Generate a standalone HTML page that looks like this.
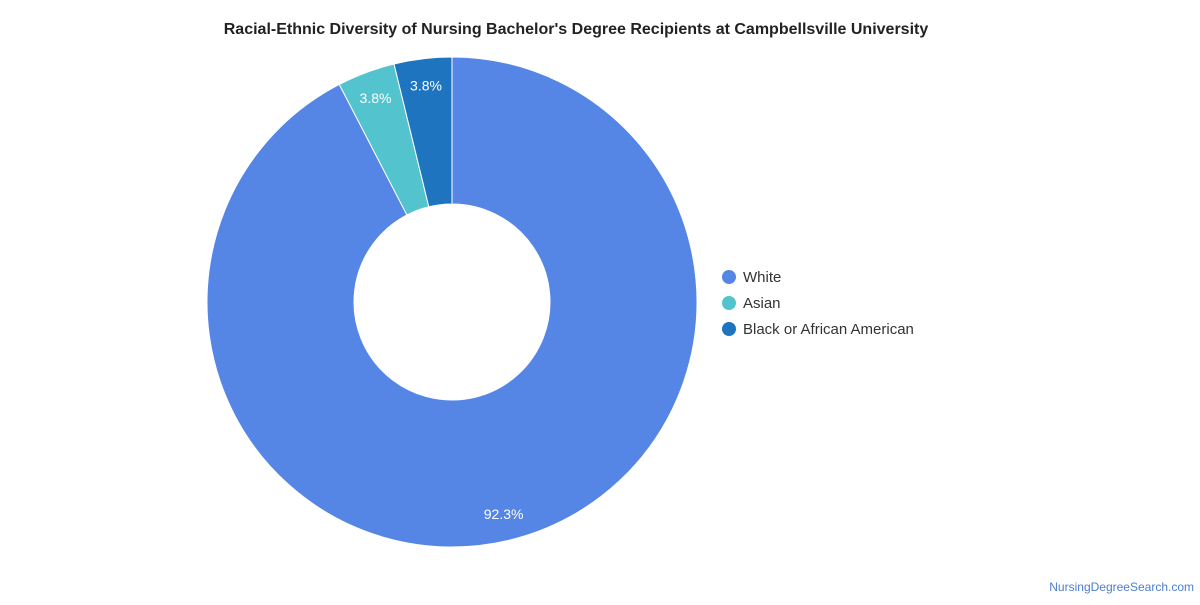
<!DOCTYPE html>
<html><head><meta charset="utf-8"><style>
body{margin:0;background:#fff;font-family:"Liberation Sans",sans-serif;}
</style></head><body>
<svg width="1200" height="600" xmlns="http://www.w3.org/2000/svg">
<text x="576" y="34" text-anchor="middle" font-size="16" font-weight="bold" fill="#222">Racial-Ethnic Diversity of Nursing Bachelor's Degree Recipients at Campbellsville University</text>
<g id="slices"></g>
<g id="legend"></g>
<text x="1194" y="591" text-anchor="end" font-size="12" fill="#4a7fd0">NursingDegreeSearch.com</text>
</svg>
<script>
const categories=["White","Asian","Black or African American"];
const values=[92.3,3.8,3.8];
const labels=["92.3%","3.8%","3.8%"];
const colors=["#5585e5","#53c3cd","#1f74c0"];
const cx=452,cy=302,R=245,r=98,LR=218;
const NS="http://www.w3.org/2000/svg";
const g=document.getElementById('slices');
const total=values.reduce((a,b)=>a+b,0);
let a0=0;
function pt(rad,ang){return [cx+rad*Math.sin(ang),cy-rad*Math.cos(ang)];}
values.forEach((v,i)=>{
  const a1=a0+v/total*2*Math.PI;
  const large=(a1-a0)>Math.PI?1:0;
  const [x1,y1]=pt(R,a0),[x2,y2]=pt(R,a1),[x3,y3]=pt(r,a1),[x4,y4]=pt(r,a0);
  const p=document.createElementNS(NS,'path');
  p.setAttribute('d',`M${x1},${y1}A${R},${R} 0 ${large} 1 ${x2},${y2}L${x3},${y3}A${r},${r} 0 ${large} 0 ${x4},${y4}Z`);
  p.setAttribute('fill',colors[i]);p.setAttribute('stroke','#fff');p.setAttribute('stroke-width','1');
  
  
  g.appendChild(p);
  const am=(a0+a1)/2;const [lx,ly]=pt(LR,am);
  const t=document.createElementNS(NS,'text');
  t.setAttribute('x',lx);t.setAttribute('y',ly+5);t.setAttribute('text-anchor','middle');
  t.setAttribute('font-size','14');t.setAttribute('fill','#fff');t.textContent=labels[i];
  
  
  g.appendChild(t);
  a0=a1;
});
const lg=document.getElementById('legend');
categories.forEach((c,i)=>{
  const gg=document.createElementNS(NS,'g');
  
  
  const ci=document.createElementNS(NS,'circle');
  ci.setAttribute('cx',729);ci.setAttribute('cy',277+i*26);ci.setAttribute('r',7);ci.setAttribute('fill',colors[i]);
  const t=document.createElementNS(NS,'text');
  t.setAttribute('x',743);t.setAttribute('y',282+i*26);t.setAttribute('font-size','15');t.setAttribute('fill','#333');t.textContent=c;
  gg.appendChild(ci);gg.appendChild(t);lg.appendChild(gg);
});
</script>
</body></html>
